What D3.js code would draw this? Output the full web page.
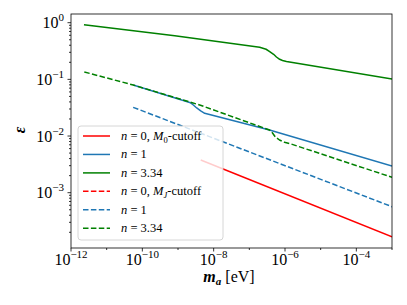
<!DOCTYPE html>
<html lang="en">
<head>
<meta charset="UTF-8">
<style>
  body { margin: 0; background: #fff; }
  text { font-family: "Liberation Serif", "Times New Roman", serif; fill: #000; }
</style>
</head>
<body>
<div id="chart"></div>
<script src="https://cdn.jsdelivr.net/npm/d3@7/dist/d3.min.js"></script>
<script>
// m_a [eV] and epsilon values
var mGreenSolid = [2.31e-12, 8.13e-10, 1.95e-7, 2.95e-7, 3.72e-7, 4.79e-7, 5.75e-7, 7.08e-7, 8.51e-7, 1.10e-6, 1e-3];
var eGreenSolid = [0.923, 0.590, 0.368, 0.340, 0.310, 0.277, 0.248, 0.226, 0.215, 0.2065, 0.1016];

var mBlueSolid = [5.53e-11, 2.13e-9, 2.59e-9, 3.35e-9, 4.33e-9, 5.6e-9, 3.68e-7, 1e-3];
var eBlueSolid = [0.0796, 0.0391, 0.0361, 0.0313, 0.0277, 0.0252, 0.01277, 0.00296];

var mRedSolid = [4.34e-9, 1e-3];
var eRedSolid = [0.00378, 1.67e-4];

var mRedDashed = [];
var eRedDashed = [];

var mBlueDashed = [5.53e-11, 1e-3];
var eBlueDashed = [0.0321, 5.66e-4];

var mGreenDashed = [2.36e-12, 5.53e-11, 4.06e-9, 3.68e-7, 4.47e-7, 5.37e-7, 7.0e-7, 9.68e-7, 1.34e-6, 1e-3];
var eGreenDashed = [0.135, 0.0796, 0.0353, 0.01277, 0.01130, 0.00962, 0.00851, 0.00776, 0.00738, 0.00187];

var xMajor = [-12, -10, -8, -6, -4];
var xMinor = [-11, -9, -7, -5, -3];
var yMajor = [0, -1, -2, -3];

var series = [
  { m: mRedSolid, e: eRedSolid, color: "#ff0000", dash: null, label: ["0", "0"] },
  { m: mBlueSolid, e: eBlueSolid, color: "#1f77b4", dash: null, label: ["1"] },
  { m: mGreenSolid, e: eGreenSolid, color: "#008000", dash: null, label: ["3.34"] },
  { m: mRedDashed, e: eRedDashed, color: "#ff0000", dash: "5.5,2.4", label: ["0", "J"] },
  { m: mBlueDashed, e: eBlueDashed, color: "#1f77b4", dash: "5.5,2.4", label: ["1"] },
  { m: mGreenDashed, e: eGreenDashed, color: "#008000", dash: "5.5,2.4", label: ["3.34"] }
];

var W = 407, H = 305;
var pLeft = 71, pRight = 392, pTop = 14, pBottom = 248;

var svg = d3.select("#chart").append("svg")
  .attr("width", W).attr("height", H);

var x = d3.scaleLog().domain([1e-12, 1e-3]).range([pLeft, pRight]);
var y = d3.scaleLog().domain([Math.pow(10, -3.976), Math.pow(10, 0.1535)]).range([pBottom, pTop]);

var plot = svg.append("g");
plot.append("clipPath").attr("id", "clip")
  .append("rect").attr("x", pLeft).attr("y", pTop)
  .attr("width", pRight - pLeft).attr("height", pBottom - pTop);

var line = d3.line()
  .x(function (d) { return x(d[0]); })
  .y(function (d) { return y(d[1]); });

series.forEach(function (s) {
  var pts = s.m.map(function (v, i) { return [v, s.e[i]]; });
  if (!pts.length) return;
  plot.append("path")
    .attr("clip-path", "url(#clip)")
    .attr("d", line(pts))
    .attr("fill", "none")
    .attr("stroke", s.color)
    .attr("stroke-width", 1.5)
    .attr("stroke-linejoin", "round")
    .attr("stroke-dasharray", s.dash);
});

// ticks
var axes = svg.append("g").attr("stroke", "#000").attr("stroke-width", 0.8);
xMajor.forEach(function (p) {
  var px = x(Math.pow(10, p));
  axes.append("line").attr("x1", px).attr("x2", px).attr("y1", pBottom).attr("y2", pBottom + 3.5);
  var t = svg.append("text").attr("x", px).attr("y", 265)
    .attr("text-anchor", "middle").style("font-size", "16px");
  t.append("tspan").text("10");
  t.append("tspan").attr("dy", -7).style("font-size", "11px").text("\u2212" + (-p));
});
xMinor.forEach(function (p) {
  var px = x(Math.pow(10, p));
  axes.append("line").attr("x1", px).attr("x2", px).attr("y1", pBottom).attr("y2", pBottom + 2);
});
yMajor.forEach(function (p) {
  var py = y(Math.pow(10, p));
  axes.append("line").attr("x1", pLeft).attr("x2", pLeft - 3.5).attr("y1", py).attr("y2", py);
  var t = svg.append("text").attr("x", 64).attr("y", py + 5.5)
    .attr("text-anchor", "end").style("font-size", "16px");
  t.append("tspan").text("10");
  t.append("tspan").attr("dy", -7).style("font-size", "11px").text(p === 0 ? "0" : "\u2212" + (-p));
});
for (var dec = -4; dec <= 0; dec++) {
  for (var k = 2; k <= 9; k++) {
    var v = k * Math.pow(10, dec);
    if (v < y.domain()[0] || v > y.domain()[1]) continue;
    var py = y(v);
    axes.append("line").attr("x1", pLeft).attr("x2", pLeft - 2).attr("y1", py).attr("y2", py);
  }
}

// frame
svg.append("rect").attr("x", pLeft).attr("y", pTop)
  .attr("width", pRight - pLeft).attr("height", pBottom - pTop)
  .attr("fill", "none").attr("stroke", "#000").attr("stroke-width", 0.8);

// axis labels
var xl = svg.append("text").attr("x", 229).attr("y", 282)
  .attr("text-anchor", "middle").style("font-size", "16px");
xl.append("tspan").style("font-style", "italic").style("font-weight", "bold").text("m");
xl.append("tspan").attr("dy", 3).style("font-style", "italic").style("font-weight", "bold")
  .style("font-size", "11px").text("a");
xl.append("tspan").attr("dy", -3).text(" [eV]");

svg.append("text")
  .attr("transform", "translate(25,130) rotate(-90)")
  .attr("text-anchor", "middle")
  .style("font-size", "16px").style("font-style", "italic").style("font-weight", "bold")
  .text("\u03b5");

// legend
var lg = svg.append("g");
lg.append("rect").attr("x", 78).attr("y", 126).attr("width", 145).attr("height", 114)
  .attr("rx", 3).attr("fill", "#fff").attr("fill-opacity", 0.8)
  .attr("stroke", "#cccccc").attr("stroke-width", 0.8);

series.forEach(function (s, i) {
  var ry = 136 + i * 18.45;
  lg.append("line").attr("x1", 83).attr("x2", 110).attr("y1", ry).attr("y2", ry)
    .attr("stroke", s.color).attr("stroke-width", 1.5).attr("stroke-dasharray", s.dash);
  var t = lg.append("text").attr("x", 121).attr("y", ry + 4).style("font-size", "12.5px");
  t.append("tspan").style("font-style", "italic").text("n");
  t.append("tspan").text(" = " + s.label[0]);
  if (s.label.length > 1) {
    t.append("tspan").text(", ");
    t.append("tspan").style("font-style", "italic").text("M");
    t.append("tspan").attr("dy", 2.5).style("font-size", "8.5px")
      .style("font-style", s.label[1] === "J" ? "italic" : "normal").text(s.label[1]);
    t.append("tspan").attr("dy", -2.5).text("-cutoff");
  }
});
</script>
</body>
</html>
